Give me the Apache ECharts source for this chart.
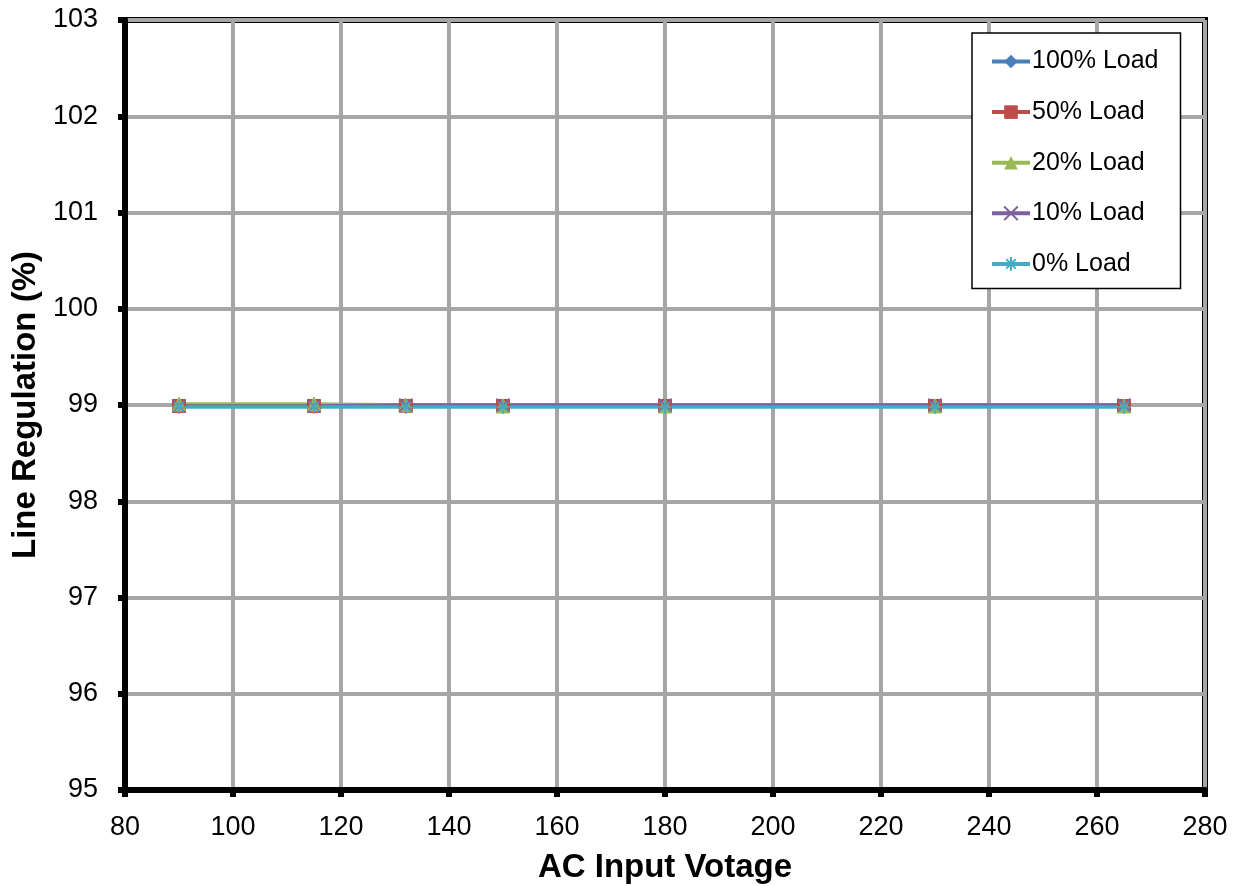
<!DOCTYPE html>
<html><head><meta charset="utf-8">
<script src="https://cdn.jsdelivr.net/npm/echarts@6/dist/echarts.min.js"></script>
<style>html,body{margin:0;padding:0;background:#fff}#c{width:1234px;height:886px}</style>
</head><body><div id="c"></div>
<script>
const voltages = [90, 115, 132, 150, 180, 230, 265];
const seriesNames = ['100% Load', '50% Load', '20% Load', '10% Load', '0% Load'];
const load100 = [98.99, 98.99, 98.99, 98.99, 98.99, 98.99, 98.99];
const load50 = [98.99, 98.99, 98.99, 98.99, 98.99, 98.99, 98.99];
const load20 = [99.01, 99.01, 99.0, 98.99, 98.99, 98.99, 98.99];
const load10 = [98.99, 98.99, 99.0, 99.0, 99.0, 99.0, 99.0];
const load0 = [98.98, 98.98, 98.98, 98.98, 98.98, 98.98, 98.98];
const xTicks = [80, 100, 120, 140, 160, 180, 200, 220, 240, 260, 280];
const yTicks = [95, 96, 97, 98, 99, 100, 101, 102, 103];

const colors = ['#4a7ebb', '#be4b48', '#98b954', '#7d60a0', '#46aac5'];
const xPath = 'path://M0,0L10,10M10,0L0,10';
const starPath = 'path://M5,0L5,10M0,5L10,5M1.5,1.5L8.5,8.5M8.5,1.5L1.5,8.5';
const symbols = ['diamond', 'rect', 'triangle', xPath, starPath];
const sizes = [14, 13, 14, 13, 14];
const allData = [load100, load50, load20, load10, load0];

const series = seriesNames.map((n, i) => ({
  name: n, type: 'line',
  data: voltages.map((v, j) => [v, allData[i][j]]),
  symbol: symbols[i], symbolSize: sizes[i], showSymbol: true,
  lineStyle: { color: colors[i], width: 3.5 },
  itemStyle: (i >= 3) ? { color: colors[i], borderColor: colors[i], borderWidth: 1.5 } : { color: colors[i], borderColor: colors[i] },
  emphasis: { disabled: true },
  animation: false
}));

const font = 'Liberation Sans, Arial';
const chart = echarts.init(document.getElementById('c'));
chart.setOption({
  animation: false,
  color: colors,
  grid: { left: 125, right: 29, top: 20, bottom: 96, outerBoundsMode: 'none', containLabel: false,
    show: true, borderColor: '#000', borderWidth: 6, backgroundColor: 'transparent' },
  xAxis: {
    type: 'value', min: 80, max: 280, interval: 20,
    name: 'AC Input Votage', nameLocation: 'middle', nameGap: 61,
    nameTextStyle: { fontFamily: font, fontWeight: 'bold', fontSize: 33, color: '#000' },
    axisLine: { show: true, lineStyle: { color: '#000', width: 6 } },
    axisTick: { show: true, length: 7, lineStyle: { color: '#000', width: 6 } },
    axisLabel: { fontFamily: font, fontSize: 27, color: '#000', margin: 24,
      formatter: v => xTicks.includes(v) ? String(v) : '' },
    splitLine: { show: true, lineStyle: { color: '#a6a6a6', width: 4 } }
  },
  yAxis: {
    type: 'value', min: 95, max: 103, interval: 1,
    name: 'Line Regulation (%)', nameLocation: 'middle', nameGap: 80, nameRotate: 90,
    nameTextStyle: { fontFamily: font, fontWeight: 'bold', fontSize: 33, color: '#000' },
    axisLine: { show: true, lineStyle: { color: '#000', width: 6 } },
    axisTick: { show: true, length: 7, lineStyle: { color: '#000', width: 6 } },
    axisLabel: { fontFamily: font, fontSize: 27, color: '#000', margin: 27,
      formatter: v => yTicks.includes(v) ? String(v) : '' },
    splitLine: { show: true, lineStyle: { color: '#a6a6a6', width: 4 } }
  },
  legend: {
    orient: 'vertical', left: 972, top: 33,
    backgroundColor: '#fff', borderColor: '#000', borderWidth: 1.5,
    padding: [16, 22, 12, 18], itemGap: 25.6, itemWidth: 38, itemHeight: 17,
    lineStyle: { width: 4 },
    textStyle: { fontFamily: font, fontSize: 25, lineHeight: 25, color: '#000', padding: [0,0,0,-3] },
    data: seriesNames
  },
  series: series
});
</script></body></html>
